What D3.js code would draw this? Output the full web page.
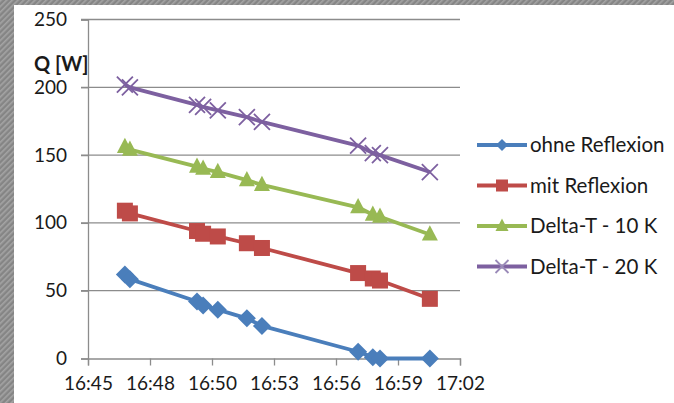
<!DOCTYPE html>
<html><head><meta charset="utf-8">
<script src="https://cdn.jsdelivr.net/npm/d3@7"></script>
<style>html,body{margin:0;padding:0;background:#fff;}svg{display:block;}</style>
</head><body>
<svg id="c" width="674" height="403"></svg>
<script>
const times = ["16:46:50","16:47:04","16:50:11","16:50:28","16:51:09","16:52:30","16:53:12","16:57:40","16:58:21","16:58:41","17:01:00"];
const ohneReflexion = [62, 58.5, 42, 39, 36, 29.6, 24, 5, 1, 0, 0];
const mitReflexion = [109, 107, 94, 92, 90, 85, 81.5, 63, 59, 57.5, 44];
const deltaT10 = [156, 154, 141.5, 140, 137.5, 131.5, 128, 111.5, 106, 104.5, 91.5];
const deltaT20 = [202, 200, 187, 185.5, 183, 178, 174.5, 157, 151.5, 150, 137.5];
const seriesNames = ["ohne Reflexion","mit Reflexion","Delta-T - 10 K","Delta-T - 20 K"];
const xTickLabels = ["16:45","16:48","16:50","16:53","16:56","16:59","17:02"];
const yTicks = [0,50,100,150,200,250];
const yLabel = "Q [W]";
// Excel time axis: min 0.698 day, major unit 0.002 day
const axisMinDay = 0.698, axisMaxDay = 0.71, axisStepDay = 0.002;

const colors = ["#4A7EBB","#BE4B48","#98B954","#7D60A0"];
const markers = ["diamond","square","triangle","x"];
const toSec = t => { const p = t.split(":").map(Number); return p[0]*3600 + p[1]*60 + (p[2]||0); };

const svg = d3.select("#c");
const W = 674, H = 403;

// hatched background border
const defs = svg.append("defs");
const pat = defs.append("pattern").attr("id","hatch").attr("patternUnits","userSpaceOnUse")
  .attr("width",4).attr("height",4).attr("patternTransform","rotate(45)");
pat.append("rect").attr("width",4).attr("height",4).attr("fill","#858585");
pat.append("rect").attr("width",1.6).attr("height",4).attr("fill","#a4a4a4");
svg.append("rect").attr("width",W).attr("height",H).attr("fill","url(#hatch)");
svg.append("rect").attr("x",14).attr("y",5).attr("width",W-14).attr("height",H-5).attr("fill","#ffffff");

const x = d3.scaleLinear().domain([axisMinDay*86400, axisMaxDay*86400]).range([88, 460]);
const y = d3.scaleLinear().domain([0,250]).range([358.5, 19.5]);

const font = "Lato, 'Open Sans', sans-serif";
const txt = "#1a1a1a";

// gridlines
const grid = svg.append("g");
yTicks.filter(v=>v>0).forEach(v=>{
  grid.append("line").attr("x1",81).attr("x2",460).attr("y1",y(v)).attr("y2",y(v))
    .attr("stroke","#8c8c8c").attr("stroke-width",1.3);
});
// y axis
const yAxis = svg.append("g").attr("transform","translate(88,0)")
  .call(d3.axisLeft(y).tickValues(yTicks).tickSize(7).tickPadding(14));
yAxis.select(".domain").attr("stroke","#8c8c8c").attr("stroke-width",1.3);
yAxis.selectAll(".tick line").attr("stroke","#8c8c8c").attr("stroke-width",1.3);
yAxis.selectAll("text").attr("font-family",font).attr("font-size",19).attr("fill",txt);

// x axis
const xTickVals = xTickLabels.map((_,i)=> (axisMinDay + i*axisStepDay)*86400);
const xAxis = svg.append("g").attr("transform","translate(0,358.5)")
  .call(d3.axisBottom(x).tickValues(xTickVals).tickSize(7).tickPadding(11)
    .tickFormat((d,i)=>xTickLabels[i]));
xAxis.select(".domain").attr("stroke","#8c8c8c").attr("stroke-width",1.3);
xAxis.selectAll(".tick line").attr("stroke","#8c8c8c").attr("stroke-width",1.3);
xAxis.selectAll("text").attr("font-family",font).attr("font-size",19).attr("fill",txt);

// y label
svg.append("text").attr("x",34).attr("y",71).text(yLabel)
  .attr("font-family",font).attr("font-size",20).attr("font-weight","bold").attr("fill",txt);

const allSeries = [ohneReflexion, mitReflexion, deltaT10, deltaT20];
const tsec = times.map(toSec);

function drawMarker(g, type, cx, cy, color, s) {
  if (type === "diamond") {
    g.append("path").attr("d",`M${cx},${cy-s}L${cx+s},${cy}L${cx},${cy+s}L${cx-s},${cy}Z`).attr("fill",color);
  } else if (type === "square") {
    g.append("rect").attr("x",cx-s).attr("y",cy-s).attr("width",2*s).attr("height",2*s).attr("fill",color);
  } else if (type === "triangle") {
    g.append("path").attr("d",`M${cx},${cy-s*1.15}L${cx+s},${cy+s*0.75}L${cx-s},${cy+s*0.75}Z`).attr("fill",color);
  } else {
    g.append("path").attr("d",`M${cx-s},${cy-s}L${cx+s},${cy+s}M${cx-s},${cy+s}L${cx+s},${cy-s}`)
      .attr("stroke",color).attr("stroke-width",1.8).attr("fill","none");
  }
}

allSeries.forEach((vals, si) => {
  const g = svg.append("g");
  const line = d3.line().x((d,i)=>x(tsec[i])).y(d=>y(d));
  g.append("path").datum(vals).attr("d",line).attr("fill","none")
    .attr("stroke",colors[si]).attr("stroke-width",3.8).attr("stroke-linejoin","round");
  vals.forEach((v,i)=>{
    const s = markers[si]==="x" ? 8 : (markers[si]==="diamond" ? 9 : 8);
    drawMarker(g, markers[si], x(tsec[i]), y(v), colors[si], s);
  });
});

// legend
seriesNames.forEach((name, i) => {
  const ly = 145 + i*40.5;
  const g = svg.append("g");
  g.append("line").attr("x1",477).attr("x2",527).attr("y1",ly).attr("y2",ly)
    .attr("stroke",colors[i]).attr("stroke-width",3.8);
  const s = markers[i]==="triangle" || markers[i]==="x" ? 6.5 : 6;
  drawMarker(g, markers[i], 502, ly, markers[i]==="x" ? "#9a8ab8" : colors[i], s);
  g.append("text").attr("x",530).attr("y",ly+7).text(name)
    .attr("font-family",font).attr("font-size",20.5).attr("fill",txt);
});
</script>
</body></html>
